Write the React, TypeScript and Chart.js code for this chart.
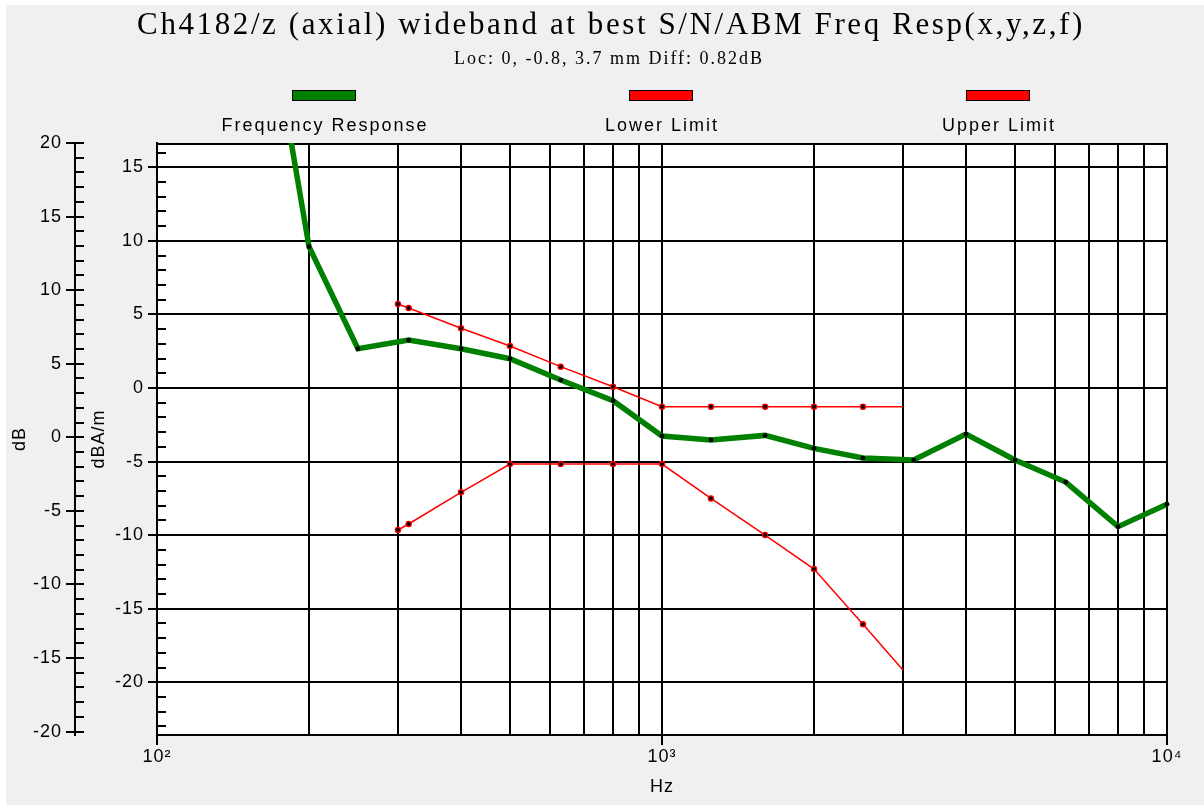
import React, { useEffect, useRef } from 'react';
import { Chart, registerables } from 'chart.js';

Chart.register(...registerables);

// ---------- data ----------
const TITLE = 'Ch4182/z (axial) wideband at best S/N/ABM Freq Resp(x,y,z,f)';
const SUBTITLE = 'Loc: 0, -0.8, 3.7 mm Diff: 0.82dB';
const seriesLabels = ['Frequency Response', 'Lower Limit', 'Upper Limit'];
const seriesColors = ['#008000', '#ff0000', '#ff0000'];

const responseFreqs = [160, 200, 250, 315, 400, 500, 630, 800, 1000, 1250, 1600, 2000, 2500, 3150, 4000, 5000, 6300, 8000, 10000];
const responseValues = [29.1, 9.6, 2.67, 3.26, 2.67, 1.99, 0.54, -0.86, -3.26, -3.53, -3.22, -4.1, -4.76, -4.89, -3.13, -4.89, -6.39, -9.42, -7.9];

const limitFreqs = [300, 315, 400, 500, 630, 800, 1000, 1250, 1600, 2000, 2500, 3000];
const lowerLimitValues = [-9.65, -9.24, -7.09, -5.17, -5.17, -5.17, -5.17, -7.5, -9.99, -12.3, -16.06, -19.17];
const upperLimitValues = [5.71, 5.44, 4.06, 2.85, 1.45, 0.09, -1.27, -1.27, -1.27, -1.27, -1.27, -1.27];
const limitHasMarker = [true, true, true, true, true, true, true, true, true, true, true, false];

const xTickValues = [100, 200, 300, 400, 500, 600, 700, 800, 900, 1000, 2000, 3000, 4000, 5000, 6000, 7000, 8000, 9000, 10000];
const xMajorValues = [100, 1000, 10000];
const xMajorLabels = ['10²', '10³', '10⁴'];

const dbaRange = [-23.58, 16.65]; // inner axis (dBA/m)
const dbRange = [-20.23, 20]; // outer axis (dB)
const dbaTickLabels = [15, 10, 5, 0, -5, -10, -15, -20];
const dbTickLabels = [20, 15, 10, 5, 0, -5, -10, -15, -20];

// ---------- styling ----------
const SANS = '"Liberation Sans", Arial, Helvetica, sans-serif';
const SERIF = '"Liberation Serif", "Times New Roman", Times, serif';
const W = 1204;
const H = 805;
const TRANSPARENT = 'rgba(0,0,0,0)';

function intTicks(min: number, max: number) {
  const out: { value: number }[] = [];
  for (let v = Math.ceil(min); v <= Math.floor(max); v++) out.push({ value: v });
  return out;
}

const backgroundAndHeader = {
  id: 'backgroundAndHeader',
  beforeDraw(chart: any) {
    const ctx = chart.ctx as CanvasRenderingContext2D;
    const a = chart.chartArea;
    ctx.save();
    ctx.fillStyle = '#ffffff';
    ctx.fillRect(0, 0, W, H);
    ctx.fillStyle = '#f0f0f0';
    ctx.fillRect(6, 5, W - 6, H - 5);
    ctx.fillStyle = '#ffffff';
    ctx.fillRect(a.left, a.top, a.right - a.left, a.bottom - a.top);

    ctx.fillStyle = '#000';
    ctx.textAlign = 'center';
    ctx.textBaseline = 'alphabetic';
    (ctx as any).letterSpacing = '2.6px';
    ctx.font = `31px ${SERIF}`;
    ctx.fillText(TITLE, 611, 34);
    (ctx as any).letterSpacing = '2px';
    ctx.font = `18px ${SERIF}`;
    ctx.fillText(SUBTITLE, 609, 64);

    // legend
    const centers = [324, 661, 998];
    (ctx as any).letterSpacing = '2px';
    ctx.font = `18px ${SANS}`;
    chart.data.datasets.forEach((ds: any, i: number) => {
      const cx = centers[i];
      ctx.fillStyle = ds.borderColor;
      ctx.fillRect(cx - 32, 90, 64, 11);
      ctx.strokeStyle = '#000';
      ctx.lineWidth = 1;
      ctx.strokeRect(cx - 32 + 0.5, 90.5, 63, 10);
      ctx.fillStyle = '#000';
      ctx.fillText(ds.label, cx + 1, 131);
    });
    ctx.restore();
    (ctx as any).letterSpacing = '1px';
  },
  beforeDatasetsDraw(chart: any) {
    const ctx = chart.ctx as CanvasRenderingContext2D;
    const a = chart.chartArea;
    ctx.save();
    ctx.strokeStyle = '#000';
    ctx.lineWidth = 2;
    ctx.beginPath();
    ctx.moveTo(a.left, a.top + 1);
    ctx.lineTo(a.right, a.top + 1);
    ctx.stroke();
    ['y', 'y2'].forEach((id) => {
      const s = chart.scales[id];
      s.ticks.forEach((t: any) => {
        const py = Math.round(s.getPixelForValue(t.value));
        ctx.beginPath();
        ctx.moveTo(s.right, py);
        ctx.lineTo(s.right + 9, py);
        ctx.stroke();
      });
    });
    ctx.restore();
  },
};

export default function App() {
  const ref = useRef<HTMLCanvasElement | null>(null);

  useEffect(() => {
    if (!ref.current) return;
    const tickFont = { family: SANS, size: 18 };
    const chart = new Chart(ref.current, {
      type: 'line',
      data: {
        datasets: [
          {
            label: seriesLabels[0],
            data: responseFreqs.map((f, i) => ({ x: f, y: responseValues[i] })),
            borderColor: seriesColors[0],
            backgroundColor: seriesColors[0],
            borderWidth: 5.5,
            pointRadius: 2.4,
            pointBackgroundColor: '#000',
            pointBorderColor: '#000',
            pointBorderWidth: 0,
            tension: 0,
            yAxisID: 'y',
            clip: { left: 0, top: 0, right: 4, bottom: 0 } as any,
          },
          {
            label: seriesLabels[1],
            data: limitFreqs.map((f, i) => ({ x: f, y: lowerLimitValues[i] })),
            borderColor: seriesColors[1],
            backgroundColor: seriesColors[1],
            borderWidth: 1.5,
            pointRadius: limitHasMarker.map((m) => (m ? 2.6 : 0)),
            pointBackgroundColor: '#000',
            pointBorderColor: seriesColors[1],
            pointBorderWidth: 1.3,
            tension: 0,
            yAxisID: 'y',
          },
          {
            label: seriesLabels[2],
            data: limitFreqs.map((f, i) => ({ x: f, y: upperLimitValues[i] })),
            borderColor: seriesColors[2],
            backgroundColor: seriesColors[2],
            borderWidth: 1.5,
            pointRadius: limitHasMarker.map((m) => (m ? 2.6 : 0)),
            pointBackgroundColor: '#000',
            pointBorderColor: seriesColors[2],
            pointBorderWidth: 1.3,
            tension: 0,
            yAxisID: 'y',
          },
        ],
      },
      options: {
        responsive: false,
        maintainAspectRatio: false,
        animation: false,
        devicePixelRatio: 1,
        layout: { padding: { left: 0, top: 143, right: 37, bottom: 0 } },
        plugins: {
          legend: { display: false },
          title: { display: false },
          tooltip: { enabled: false },
        },
        scales: {
          x: {
            type: 'logarithmic',
            min: 100,
            max: 10000,
            afterBuildTicks: (s: any) => {
              s.ticks = xTickValues.map((v) => ({ value: v, major: xMajorValues.includes(v) }));
            },
            afterFit: (s: any) => {
              s.height = 70;
            },
            ticks: {
              autoSkip: false,
              maxRotation: 0,
              minRotation: 0,
              padding: 1,
              color: '#000',
              font: tickFont,
              callback: (v: any) => {
                const i = xMajorValues.indexOf(Number(v));
                return i >= 0 ? xMajorLabels[i] : '';
              },
            },
            grid: {
              color: '#000',
              lineWidth: 2,
              tickLength: 10,
              tickWidth: 2,
              tickColor: (c: any) => (c.tick && xMajorValues.includes(c.tick.value) ? '#000' : TRANSPARENT),
            },
            border: { display: true, color: '#000', width: 2 },
            title: {
              display: true,
              text: 'Hz',
              color: '#000',
              font: { family: SANS, size: 18 },
              padding: { top: 0, bottom: 7 },
            },
          },
          y: {
            type: 'linear',
            position: 'left',
            weight: 0,
            min: dbaRange[0],
            max: dbaRange[1],
            afterBuildTicks: (s: any) => {
              s.ticks = intTicks(dbaRange[0], dbaRange[1]);
            },
            afterFit: (s: any) => {
              s.width = 82;
            },
            ticks: {
              autoSkip: false,
              padding: 4,
              color: '#000',
              font: tickFont,
              callback: (v: any) => (dbaTickLabels.includes(Number(v)) ? String(v) : ''),
            },
            grid: {
              color: (c: any) => (c.tick && c.tick.value % 5 === 0 ? '#000' : TRANSPARENT),
              lineWidth: 2,
              tickLength: 9,
              tickWidth: 2,
              tickColor: (c: any) => (c.tick && c.tick.value % 5 === 0 ? '#000' : TRANSPARENT),
            },
            border: { display: true, color: '#000', width: 2 },
            title: {
              display: true,
              text: 'dBA/m',
              color: '#000',
              font: { family: SANS, size: 18 },
              padding: { top: 13, bottom: 0 },
            },
          },
          y2: {
            type: 'linear',
            position: 'left',
            weight: 1,
            min: dbRange[0],
            max: dbRange[1],
            afterBuildTicks: (s: any) => {
              s.ticks = intTicks(dbRange[0], dbRange[1]);
            },
            afterFit: (s: any) => {
              s.width = 75;
            },
            ticks: {
              autoSkip: false,
              padding: 4,
              color: '#000',
              font: tickFont,
              callback: (v: any) => (dbTickLabels.includes(Number(v)) ? String(v) : ''),
            },
            grid: {
              drawOnChartArea: false,
              color: TRANSPARENT,
              lineWidth: 2,
              tickLength: 9,
              tickWidth: 2,
              tickColor: (c: any) => (c.tick && c.tick.value % 5 === 0 ? '#000' : TRANSPARENT),
            },
            border: { display: true, color: '#000', width: 2 },
            title: {
              display: true,
              text: 'dB',
              color: '#000',
              font: { family: SANS, size: 18 },
              padding: { top: 9, bottom: 0 },
            },
          },
        } as any,
      },
      plugins: [backgroundAndHeader],
    });
    return () => chart.destroy();
  }, []);

  return (
    <div style={{ position: 'fixed', left: 0, top: 0, width: W, height: H }}>
      <canvas ref={ref} width={W} height={H} style={{ width: W, height: H, display: 'block' }} />
    </div>
  );
}
